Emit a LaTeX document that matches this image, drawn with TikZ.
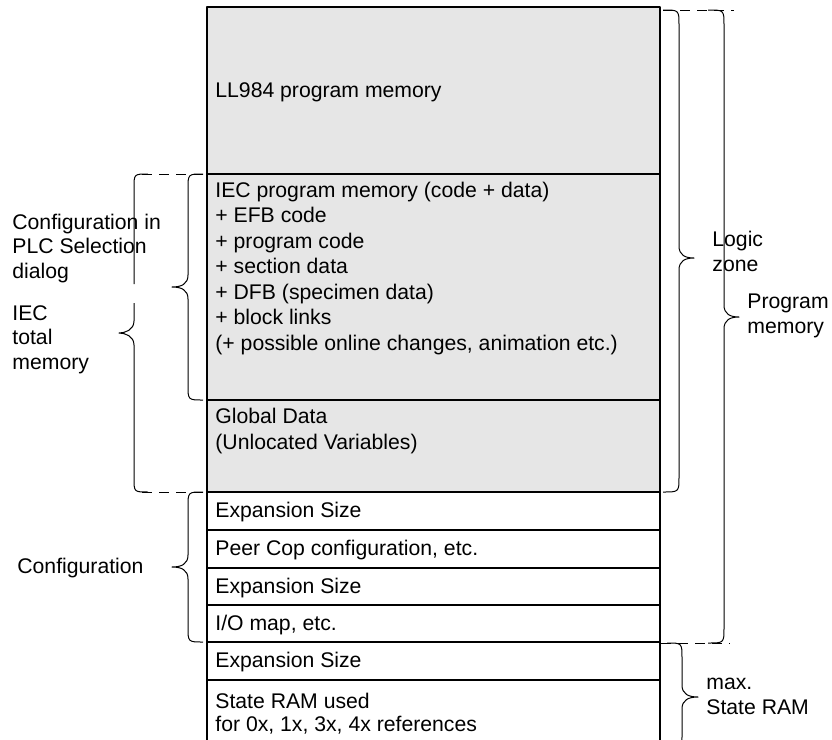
\documentclass[tikz,border=0pt]{standalone}
\usepackage{fontspec}
\setmainfont{Liberation Sans}
\usepackage{xcolor}
\definecolor{zonegray}{RGB}{230,230,230}
\tikzset{memline/.style={draw=black, line width=1pt},bracepath/.style={draw=black, line width=0.5pt},zonedash/.style={draw=black, line width=0.5pt, dash pattern=on 5pt off 3.5pt}}
\tikzset{memtext/.style={anchor=base west, inner sep=0pt, font=\fontsize{10.6}{12.25}\selectfont},sidetext/.style={memtext, align=left}}

\begin{document}
\begin{tikzpicture}[
        x=0.5pt, y=-0.5pt,
        line join=round
    ]
        \useasboundingbox (0,0) rectangle (832,740);
        \clip (0,0) rectangle (832,740);
        % Shaded program area
        \fill[zonegray] (207,7) rectangle (660,492);
        % Memory table
        \draw[memline] (207,740) -- (207,7) -- (660,7) -- (660,740);
        \foreach \y in {174,400,492,530,568,605,642,680} {
            \draw[memline] (207,\y) -- (660,\y);
        }
        % Zone borders
        \draw[zonedash] (142,174) -- (207,174);
        \draw[zonedash] (142,492) -- (207,492);
        \draw[zonedash] (663,10) -- (734,10);
        \draw[zonedash] (661,643) -- (730,643);
        % Braces: end x / line x / tip x / top / tip / bottom
        \foreach \xe/\xl/\xt/\yt/\ym/\yb in {
            203/188/172/174/287/400,
            203/188/172/492/567/642,
            663/679/694/10/258/492,
            708/724/739/10/317/643,
            667/682/698/643/697/751} {
            \draw[bracepath] (\xe,\yt) .. controls (\xl,\yt) .. (\xl,\yt+15) -- (\xl,\ym-12)
                .. controls (\xl,\ym-3) and ({\xl+0.4*(\xt-\xl)},\ym) .. (\xt,\ym)
                .. controls ({\xl+0.4*(\xt-\xl)},\ym) and (\xl,\ym+3) .. (\xl,\ym+12)
                -- (\xl,\yb-15) .. controls (\xl,\yb) .. (\xe,\yb);
        }
        % IEC total memory brace, broken line
        \draw[bracepath] (148,174) .. controls (134,174) .. (134,188) -- (134,284);
        \draw[bracepath] (134,303) -- (134,321) .. controls (134,330) and (125,333) .. (119,333)
            .. controls (125,333) and (134,336) .. (134,345) -- (134,478) .. controls (134,492) .. (148,492);
        % Memory contents
        \foreach \y/\txt [count=\i] in {
            97/LL984 program memory,
            197/IEC program memory (code + data),
            222.5/+ EFB code,
            248/+ program code,
            273.5/+ section data,
            299/+ DFB (specimen data),
            324.5/+ block links,
            350/{(+ possible online changes, animation etc.)},
            423/Global Data,
            449/(Unlocated Variables),
            517/Expansion Size,
            555/{Peer Cop configuration, etc.},
            593/Expansion Size,
            630/{I/O map, etc.},
            667/Expansion Size,
            708/State RAM used,
            731/{for 0x, 1x, 3x, 4x references}} {
            \node[memtext] (memtext-\i) at (215,\y) {\txt};
        }
        % Side labels (placed at the baseline of their last line)
        \node[sidetext] (plcconfig) at (12,278) {Configuration in\\PLC Selection\\dialog};
        \node[sidetext] (iectotal) at (12,369) {IEC\\total\\memory};
        \node[memtext] (configlabel) at (17,573) {Configuration};
        \node[sidetext] (logiczone) at (712,271) {Logic\\zone};
        \node[sidetext] (progmemory) at (747,333) {Program\\memory};
        \node[sidetext] (maxstateram) at (706,714) {max.\\State RAM};
    \end{tikzpicture}
\end{document}
